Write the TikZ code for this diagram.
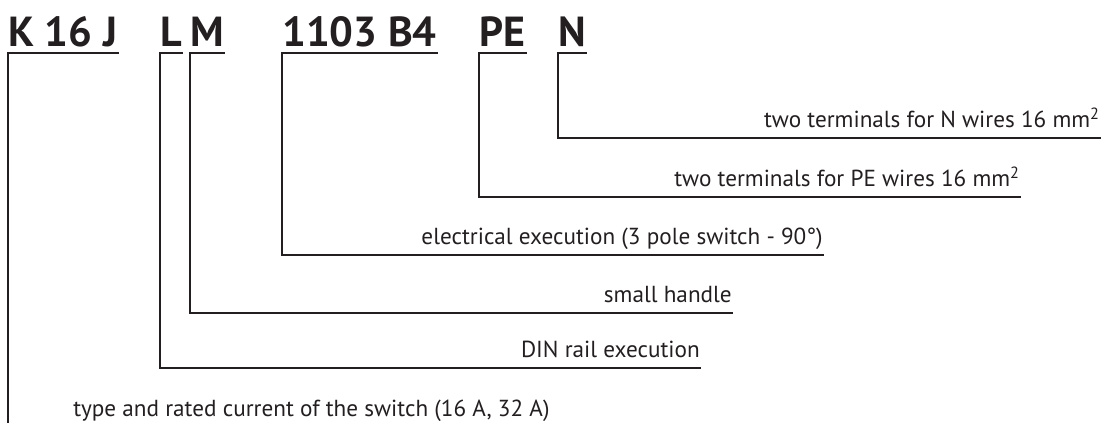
\documentclass[tikz,border=0pt]{standalone}
\usepackage{fontspec}
\setmainfont{PT Sans}
\usepackage{xcolor}
\usepackage{tikz}
\usetikzlibrary{positioning, calc}
\definecolor{inkBlack}{HTML}{231F20}

\begin{document}
\begin{tikzpicture}[
        x=0.75pt, y=-0.75pt, inkBlack,
        code/.style={font=\fontsize{31.5}{33}\selectfont\bfseries, anchor=south west, inner xsep=0pt, inner ysep=4.5pt, text depth=0pt},
        lab/.style={font=\fontsize{17.4}{19}\selectfont, anchor=south east, inner xsep=0pt, inner ysep=7.5pt, text depth=0pt},
        lead/.style={line width=1.8pt, line cap=rect}]
        \useasboundingbox (0,0) rectangle (1101,423);
        % ordering code, split in its fields
        \node[code] (kj)   at (8,53)   {K 16 J};
        \node[code] (l)    at (160,53) {L};
        \node[code] (m)    at (190,53) {M};
        \node[code] (elec) at (282,53) {1103 B4};
        \node[code] (pe)   at (479,53) {PE};
        \node[code] (n)    at (558,53) {N};
        % meaning of each field
        \node[lab] (nlab)    at (1100,138) {two terminals for N wires 16 mm\textsuperscript{2}};
        \node[lab] (pelab)   at (1020,197) {two terminals for PE wires 16 mm\textsuperscript{2}};
        \node[lab] (eleclab) at (823,255)  {electrical execution (3 pole switch - 90°)};
        \node[lab] (mlab)    at (732,313)  {small handle};
        \node[lab] (llab)    at (700,368)  {DIN rail execution};
        \node[font=\fontsize{17.4}{19}\selectfont, anchor=base west, inner sep=0pt] (kjlab) at (73,417)
              {type and rated current of the switch (16 A, 32 A)};
        \coordinate (kjend) at (8,430);
        \draw[lead] (n.south east) -- (n.south west) |- (nlab.south east);
        \draw[lead] (pe.south east) -- (pe.south west) |- (pelab.south east);
        \draw[lead] (elec.south east) -- (elec.south west) |- (eleclab.south east);
        \draw[lead] (m.south east) -- (m.south west) |- (mlab.south east);
        \draw[lead] (l.south east) -- (l.south west) |- (llab.south east);
        \draw[lead] (kj.south east) -- (kj.south west) -- (kjend);
      \end{tikzpicture}
\end{document}
